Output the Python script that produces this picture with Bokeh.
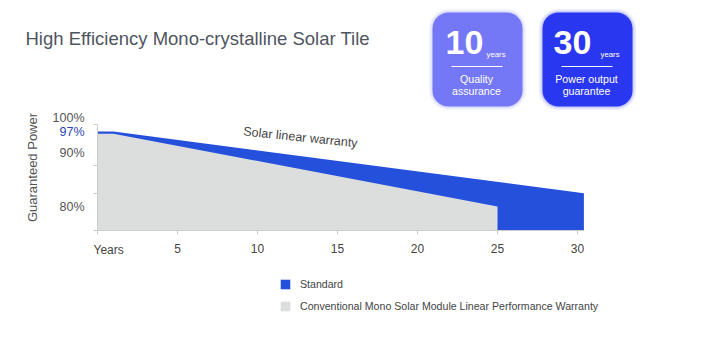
import math
from bokeh.plotting import figure
from bokeh.models import (Range1d, FixedTicker, Label, BoxAnnotation, Legend, LegendItem, LinearAxis)
from bokeh.embed import file_html
from bokeh.resources import INLINE

# ---------------- data ----------------
std_years = [0, 1, 30.4]
std_power = [97.0, 97.0, 83.0]
conv_years = [0, 1, 25]
conv_power = [96.5, 96.5, 80.0]

x_ticks = [0, 5, 10, 15, 20, 25, 30]
x_tick_labels = ["", "5", "10", "15", "20", "25", "30"]
y_tick_labels = ["100%", "97%", "90%", "80%"]
y_tick_values = [100, 97, 90, 80]

title_text = "High Efficiency Mono-crystalline Solar Tile"
badge_numbers = ["10", "30"]
badge_lines = [["Quality", "assurance"], ["Power output", "guarantee"]]
legend_labels = ["Standard", "Conventional Mono Solar Module Linear Performance Warranty"]

# ---------------- layout helpers ----------------
W, H = 701, 347
FL, FR, FT, FB = 97, 583, 124, 230   # chart area edges in px
Y0, Y1 = 74.56, 98.59
X0, X1 = 0.0, 30.375
SX = (FR - FL) / (X1 - X0)
SY = (FB - FT) / (Y1 - Y0)

def xd(px):
    return X0 + (px - FL) / SX

def yd(py):
    return Y0 + (FB - py) / SY

def base(py, size):
    # alphabetic baseline correction
    return yd(py - 0.33 * size)

FONT = "Liberation Sans"
BLUE = "#2450dc"
GREY = "#dcdddd"
TXT = "#4f5560"

p = figure(width=W, height=H, output_backend="svg", toolbar_location=None,
           x_range=Range1d(xd(0), xd(W)), y_range=Range1d(yd(H), yd(0)),
           x_axis_type=None, y_axis_type=None,
           min_border=0, min_border_left=0, min_border_right=0,
           min_border_top=0, min_border_bottom=0)
p.title = None
p.outline_line_color = None
p.grid.visible = False
p.background_fill_color = "white"
p.border_fill_color = "white"

blue = p.varea(x=std_years, y1=Y0, y2=std_power, fill_color=BLUE)
grey = p.varea(x=conv_years, y1=Y0, y2=conv_power, fill_color=GREY)

# x axis
xa = LinearAxis(fixed_location=Y0, bounds=(X0, X1))
xa.ticker = FixedTicker(ticks=x_ticks)
xa.major_label_overrides = {t: l for t, l in zip(x_ticks, x_tick_labels)}
xa.axis_line_color = "#cccccc"
xa.major_tick_line_color = "#cccccc"
xa.major_tick_out = 4
xa.major_tick_in = 0
xa.minor_tick_line_color = None
xa.major_label_standoff = 9
xa.major_label_text_font = FONT
xa.major_label_text_font_size = "12px"
xa.major_label_text_color = "#444444"
p.add_layout(xa, "below")

# y axis
ya = LinearAxis(fixed_location=X0, bounds=(Y0, Y1))
ya.ticker = FixedTicker(ticks=[yd(124), yd(165), yd(193), yd(230)])
ya.major_label_overrides = {t: "" for t in ya.ticker.ticks}
ya.axis_line_color = "#cccccc"
ya.major_tick_line_color = "#cccccc"
ya.major_tick_out = 4
ya.major_tick_in = 0
ya.minor_tick_line_color = None
p.add_layout(ya, "left")

# y tick labels (placed as in the picture)
label_offsets = [0, 0, 9, 0]
label_colors = ["#555555", "#2a45b5", "#555555", "#555555"]
for lab, val, off, col in zip(y_tick_labels, y_tick_values, label_offsets, label_colors):
    p.add_layout(Label(x=xd(84), y=val, y_offset=off, text=lab, text_align="right",
                       text_baseline="middle", text_font=FONT, text_font_size="12.5px",
                       text_color=col))

p.add_layout(Label(x=xd(93), y=yd(249.5), text="Years", text_align="left",
                   text_baseline="middle", text_font=FONT, text_font_size="12px",
                   text_color="#444444"))

p.add_layout(Label(x=xd(31.5), y=yd(167), text="Guaranteed Power", angle=math.pi / 2,
                   text_align="center", text_baseline="middle", text_font=FONT,
                   text_font_size="13px", text_color="#555555"))

p.add_layout(Label(x=xd(243), y=base(135, 12.5), text="Solar linear warranty",
                   angle=-6 * math.pi / 180,
                   text_align="left", text_baseline="alphabetic", text_font=FONT,
                   text_font_size="12.5px", text_color="#444444"))

# title
p.add_layout(Label(x=xd(25), y=base(44, 18.5), text=title_text, text_align="left",
                   text_baseline="alphabetic", text_font=FONT, text_font_size="18.5px",
                   text_color=TXT))

# badges
badge_colors = ["#7578f6", "#2a37f0"]
badge_lefts = [432, 542]
for i in range(2):
    l = badge_lefts[i]
    r = l + 90
    t, b = 12, 106
    for g, a in [(4, 0.04), (3, 0.06), (2, 0.08), (1, 0.12)]:
        p.add_layout(BoxAnnotation(left=xd(l - g), right=xd(r + g), top=yd(t - g), bottom=yd(b + g),
                                   fill_color=badge_colors[i], fill_alpha=a, line_color=None,
                                   border_radius=16 + g, level="underlay"))
    p.add_layout(BoxAnnotation(left=xd(l), right=xd(r), top=yd(t), bottom=yd(b),
                               fill_color=badge_colors[i], fill_alpha=1.0, line_color=None,
                               border_radius=16, level="underlay"))
    cx = l + 44
    p.add_layout(Label(x=xd(l + 13 if i == 0 else l + 11), y=base(53, 34), text=badge_numbers[i],
                       text_align="left", text_baseline="alphabetic", text_font=FONT,
                       text_font_style="bold", text_font_size="34px", text_color="white"))
    p.add_layout(Label(x=xd(l + 54 if i == 0 else l + 58), y=base(56.5, 7.8), text="years",
                       text_align="left", text_baseline="alphabetic", text_font=FONT,
                       text_font_size="7.8px", text_color="white"))
    p.add_layout(BoxAnnotation(left=xd(l + 19), right=xd(l + 70), top=yd(65.5), bottom=yd(66.5),
                               fill_color="white", fill_alpha=1.0, line_color=None, level="underlay"))
    for j, ln in enumerate(badge_lines[i]):
        p.add_layout(Label(x=xd(cx), y=yd(78 + 12.5 * j), text=ln, text_align="center",
                           text_baseline="middle", text_font=FONT, text_font_size="10.6px",
                           text_color="white"))

# legend
leg = Legend(items=[LegendItem(label=legend_labels[0], renderers=[blue]),
                    LegendItem(label=legend_labels[1], renderers=[grey])],
             location=(279, H - 312), orientation="vertical",
             glyph_width=12, glyph_height=12, label_height=12, spacing=10,
             padding=0, margin=0, border_line_color=None, background_fill_alpha=0,
             label_text_font=FONT, label_text_font_size="10.6px", label_text_color="#444444",
             label_standoff=9)
p.add_layout(leg, "center")

open("out.html", "w").write(file_html(p, INLINE))
